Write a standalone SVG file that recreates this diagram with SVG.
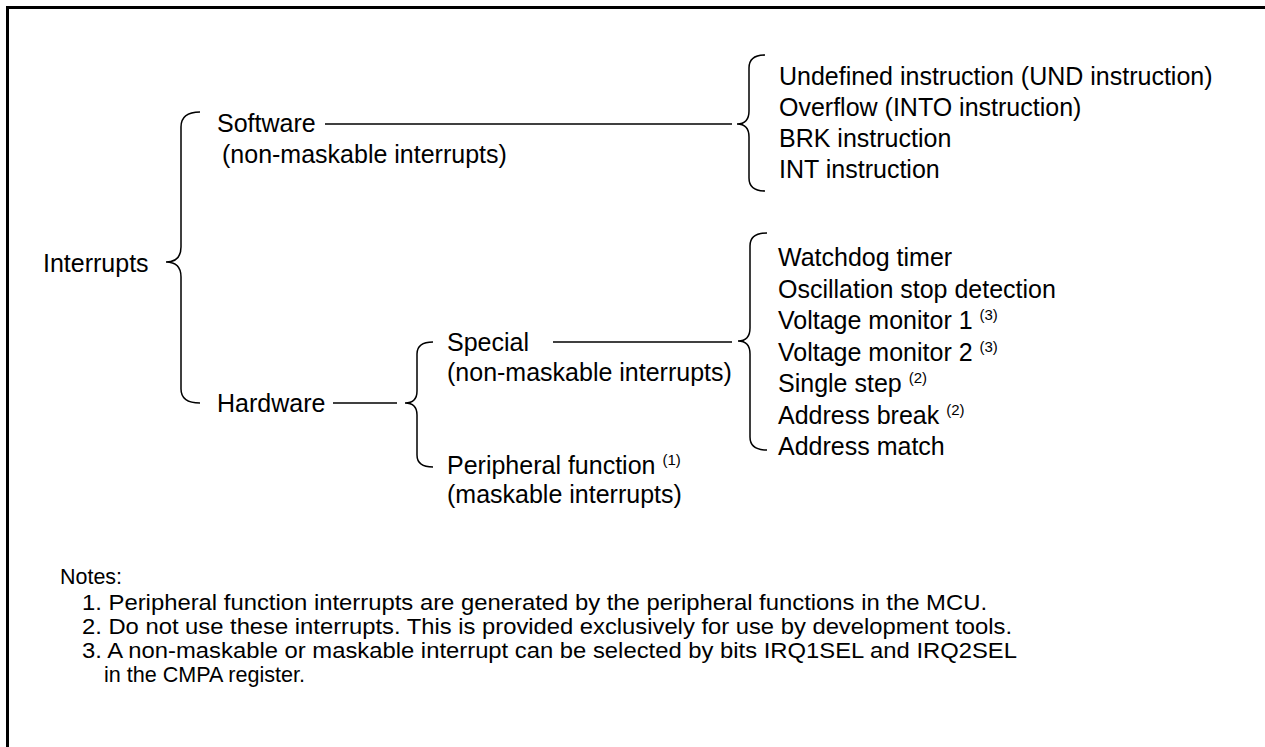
<svg xmlns="http://www.w3.org/2000/svg" width="1265" height="747" viewBox="0 0 1265 747">
<style>
.t{font-family:"Liberation Sans",Arial,sans-serif;font-size:25px;fill:#000}
.s{font-size:15px}
.n{font-family:"Liberation Sans",Arial,sans-serif;font-size:22px;fill:#000}
.br{fill:none;stroke:#000;stroke-width:1.5}
.ln{stroke:#000;stroke-width:1.3}
</style>
<rect width="1265" height="747" fill="#fff"/>
<path d="M7.5,747 V7.5 H1265" fill="none" stroke="#000" stroke-width="3"/>
<g id="interrupts"><text class="t" x="43" y="272">Interrupts</text></g>
<g id="software"><text class="t" x="217" y="132">Software</text><text class="t" x="222" y="163">(non-maskable interrupts)</text></g>
<g id="hardware"><text class="t" x="217" y="412">Hardware</text></g>
<g id="special"><text class="t" x="447" y="351">Special</text><text class="t" x="447" y="381">(non-maskable interrupts)</text></g>
<g id="peripheral"><text class="t" x="447" y="474">Peripheral function <tspan class="s" dy="-9">(1)</tspan></text><text class="t" x="447" y="503">(maskable interrupts)</text></g>
<g id="software-items">
<text class="t" x="779" y="85">Undefined instruction (UND instruction)</text>
<text class="t" x="779" y="116">Overflow (INTO instruction)</text>
<text class="t" x="779" y="147">BRK instruction</text>
<text class="t" x="779" y="178">INT instruction</text>
</g>
<g id="special-items">
<text class="t" x="778" y="266">Watchdog timer</text>
<text class="t" x="778" y="297.5">Oscillation stop detection</text>
<text class="t" x="778" y="329">Voltage monitor 1 <tspan class="s" dy="-9">(3)</tspan></text>
<text class="t" x="778" y="360.5">Voltage monitor 2 <tspan class="s" dy="-9">(3)</tspan></text>
<text class="t" x="778" y="392">Single step <tspan class="s" dy="-9">(2)</tspan></text>
<text class="t" x="778" y="423.5">Address break <tspan class="s" dy="-9">(2)</tspan></text>
<text class="t" x="778" y="455">Address match</text>
</g>
<g id="connectors">
<path class="br" d="M200,112 Q181,112 181,127 V247 Q181,262 166,262 Q181,262 181,277 V389 Q181,403 200,403"/>
<path class="br" d="M765,55 Q749,55 749,68 V111 Q749,124 737,124 Q749,124 749,137 V178 Q749,191 765,191"/>
<path class="br" d="M433,342 Q417,342 417,354 V391 Q417,403 405,403 Q417,403 417,415 V455 Q417,467 433,467"/>
<path class="br" d="M767,233 Q750,233 750,246 V328 Q750,341 738,341 Q750,341 750,354 V437 Q750,450 767,450"/>
<line class="ln" x1="325" y1="124" x2="732" y2="124"/>
<line class="ln" x1="333" y1="403" x2="397" y2="403"/>
<line class="ln" x1="553" y1="342" x2="732" y2="342"/>
</g>
<g id="notes">
<text class="n" x="60" y="584" textLength="62" lengthAdjust="spacingAndGlyphs">Notes:</text>
<text class="n" x="82" y="610" textLength="905" lengthAdjust="spacingAndGlyphs">1. Peripheral function interrupts are generated by the peripheral functions in the MCU.</text>
<text class="n" x="82" y="634" textLength="930" lengthAdjust="spacingAndGlyphs">2. Do not use these interrupts. This is provided exclusively for use by development tools.</text>
<text class="n" x="82" y="658" textLength="935" lengthAdjust="spacingAndGlyphs">3. A non-maskable or maskable interrupt can be selected by bits IRQ1SEL and IRQ2SEL</text>
<text class="n" x="104" y="682" textLength="201" lengthAdjust="spacingAndGlyphs">in the CMPA register.</text>
</g>
</svg>
